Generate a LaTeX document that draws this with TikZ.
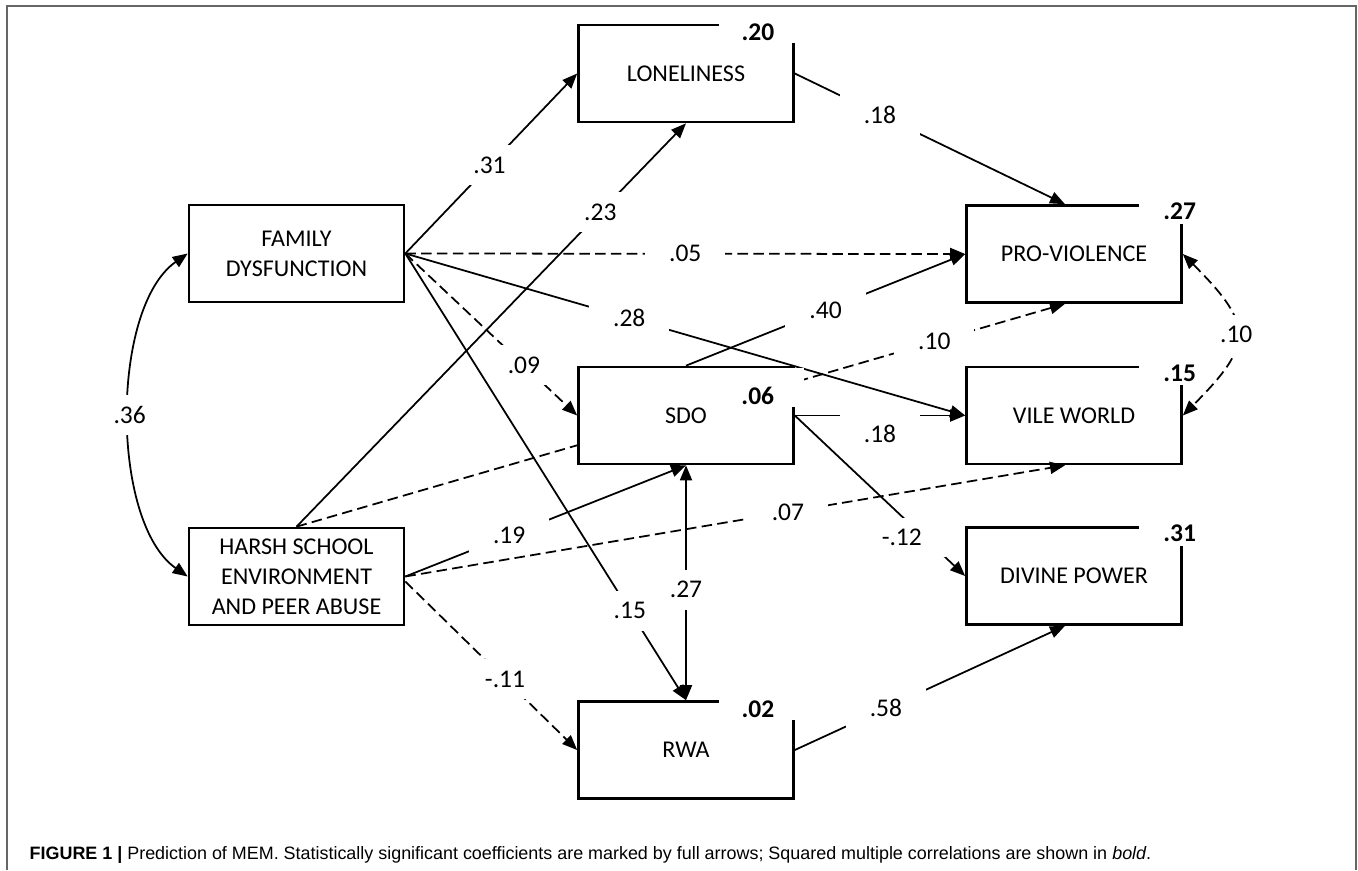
\documentclass[tikz,border=0pt]{standalone}
\usepackage{fontspec}
\setmainfont{Carlito}
\newfontfamily\captionfont{Liberation Sans}
\usepackage{tikz}
\usetikzlibrary{arrows.meta, positioning, backgrounds}
\newcommand{\boxsize}{\fontsize{13.7}{17}\selectfont}
\newcommand{\coefsize}{\fontsize{14.5}{17}\selectfont}
\tikzstyle{construct} = [rectangle, minimum width=4.3cm, minimum height=1.94cm, inner sep=0pt, text centered, align=center, draw=black, line width=1.5pt, fill=white, font=\boxsize]
\tikzstyle{coef} = [fill=white, inner xsep=0.48cm, inner ysep=0.23cm, font=\coefsize]
\tikzstyle{rsq} = [fill=white, inner sep=0pt, font=\coefsize\bfseries]
\tikzstyle{rsqleft} = [rsq, minimum width=1.54cm, minimum height=0.42cm, anchor=north east, xshift=0.04cm, yshift=0.04cm]
\tikzstyle{rsqright} = [rsq, text width=1.14cm, align=right, minimum height=0.48cm, anchor=north east, xshift=0.27cm, yshift=0.1cm]
\tikzstyle{arrow} = [line width=1pt, -{Triangle[length=0.3cm, width=0.24cm]}]
\tikzstyle{biarrow} = [line width=1pt, {Triangle[length=0.3cm, width=0.24cm]}-{Triangle[length=0.3cm, width=0.24cm]}]
\tikzstyle{nonsig} = [dash pattern=on 6pt off 3pt]
\tikzstyle{figframe} = [line width=0.04cm, draw=black!60]
\begin{document}
\begin{tikzpicture}[node distance=1.5cm]
	\useasboundingbox (0,0) rectangle (27.16,-17.4);
	\draw [figframe] (0.14,-17.4) -- (0.14,-0.12) -- (27.12,-0.12) -- (27.12,-17.4);

	\node (famDys) [construct] at (5.93,-5.07) {FAMILY\\DYSFUNCTION};
	\node (harshAbuse) [construct, below of=famDys, yshift=-4.96cm] {HARSH SCHOOL\\ENVIRONMENT\\AND PEER ABUSE};
	\node (sdo) [construct, right of=famDys, xshift=6.29cm, yshift=-3.24cm] {SDO};
	\node (lone) [construct, above of=sdo, yshift=5.34cm] {LONELINESS};
	\node (rwa) [construct, below of=sdo, yshift=-5.19cm] {RWA};
	\node (vileWorld) [construct, right of=sdo, xshift=6.26cm] {VILE WORLD};
	\node (proViol) [construct, above of=vileWorld, yshift=1.73cm] {PRO-VIOLENCE};
	\node (divPower) [construct, below of=vileWorld, yshift=-1.71cm] {DIVINE POWER};

	\begin{pgfonlayer}{background}
		\draw [arrow, nonsig] (harshAbuse.north) -- node[coef, pos=0.83] {.10} ([xshift=-0.18cm]proViol.south);
	\end{pgfonlayer}

	\draw [arrow] (famDys.east) -- node[coef, pos=0.49] {.31} (lone.west);
	\draw [arrow] (harshAbuse.north) -- node[coef, pos=0.78] {.23} (lone.south);
	\draw [arrow, nonsig] (famDys.east) -- node[coef, pos=0.5] {.05} (proViol.west);
	\draw [arrow] (famDys.east) -- node[coef, pos=0.4] {.28} (vileWorld.west);
	\draw [arrow, nonsig] (famDys.east) -- node[coef, pos=0.69] {.09} (sdo.west);
	\draw [arrow] (famDys.east) -- node[coef, pos=0.8] {.15} (rwa.north);
	\draw [biarrow] (sdo.south) -- node[coef, pos=0.53] {.27} (rwa.north);
	\draw [arrow] (harshAbuse.east) -- node[coef, pos=0.37] {.19} (sdo.south);
	\draw [arrow, nonsig] (harshAbuse.east) -- node[coef, pos=0.58] {.07} ([xshift=-0.18cm]vileWorld.south);
	\draw [arrow, nonsig] ([yshift=-0.1cm]harshAbuse.east) -- node[coef, pos=0.58] {-.11} (rwa.west);

	\draw [arrow] (lone.east) -- node[coef, pos=0.315] {.18} ([xshift=-0.18cm]proViol.north);
	\draw [arrow] (sdo.north) -- node[coef, pos=0.5] {.40} (proViol.west);
	\draw [arrow] (sdo.east) -- node[coef, pos=0.5, yshift=-0.36cm] {.18} (vileWorld.west);
	\draw [arrow] (sdo.east) -- node[coef, pos=0.76, xshift=-0.45cm] {-.12} (divPower.west);
	\draw [arrow] (rwa.east) -- node[coef, pos=0.337] {.58} ([xshift=-0.18cm]divPower.south);

	\draw [biarrow, nonsig] (proViol.east) to[out=-45, in=45, looseness=1.6] node[coef] {.10} (vileWorld.east);
	\draw [biarrow] (famDys.west) to[out=-145, in=145, looseness=0.75] node[coef] {.36} (harshAbuse.west);

	\node (rLone) [rsqleft] at (lone.north east) {.20};
	\node (rRwa) [rsqleft] at (rwa.north east) {.02};
	\node (rPro) [rsqright] at (proViol.north east) {.27};
	\node (rVile) [rsqright] at (vileWorld.north east) {.15};
	\node (rDiv) [rsqright] at (divPower.north east) {.31};
	\node (rSdo) [rsq, text width=1.18cm, align=left, inner xsep=0.08cm, text height=0.73cm, text depth=0.05cm, anchor=north east, xshift=0.2cm, yshift=-0.04cm] at (sdo.north east) {.06};

	\node (figCaption) [anchor=west, font=\captionfont\fontsize{10.2}{12}\selectfont] at (0.47,-17.1) {\textbf{FIGURE 1 |} Prediction of MEM. Statistically significant coefficients are marked by full arrows; Squared multiple correlations are shown in \textit{bold}.};
\end{tikzpicture}
\end{document}
